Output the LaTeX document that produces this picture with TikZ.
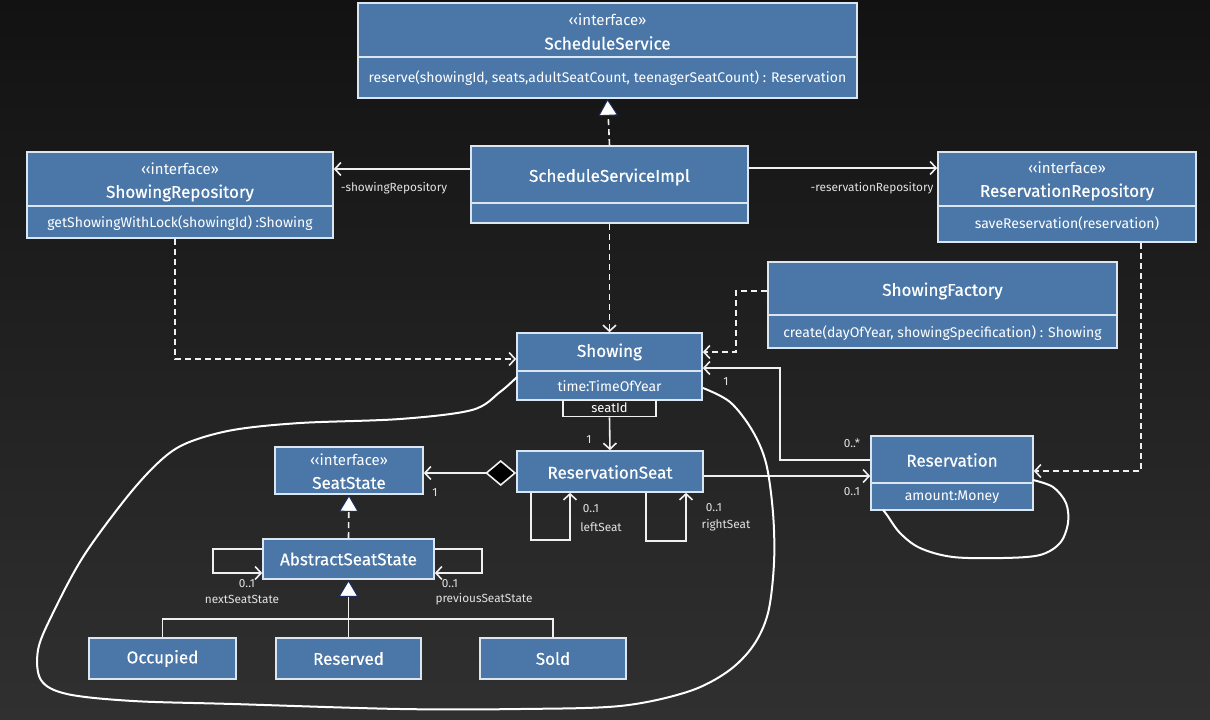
\documentclass[tikz,border=0pt]{standalone}
\usepackage{fontspec}
\setmainfont{Fira Sans}
\newfontfamily\titlefont[FakeBold=0.6]{Fira Sans}
\usetikzlibrary{arrows.meta}
\definecolor{boxfill}{HTML}{4A77A8}
\definecolor{boxline}{HTML}{DCE6F0}
\definecolor{bgtop}{HTML}{121212}
\definecolor{bgbot}{HTML}{303030}
\definecolor{linec}{HTML}{F0F0F0}
\definecolor{lblc}{HTML}{E2E2E2}
\definecolor{tipedge}{HTML}{1C2A5C}
\begin{document}
\begin{tikzpicture}[x=1pt,y=-1pt,
  cls/.style={draw=boxline,fill=boxfill,line width=1.6pt,inner sep=0pt,rectangle},
  div/.style={draw=boxline,line width=1.6pt},
  ttl/.style={text=white,font=\titlefont\fontsize{17}{19}\selectfont,inner sep=0pt},
  stereo/.style={text=white,font=\fontsize{15}{17}\selectfont,inner sep=0pt},
  member/.style={text=white,font=\fontsize{14}{16}\selectfont,inner sep=0pt},
  lbl/.style={text=lblc,font=\fontsize{11.8}{13}\selectfont,inner sep=0pt},
  conn/.style={draw=linec,line width=1.6pt},
  assoc/.style={conn,-{Straight Barb[length=6pt,width=13pt]}},
  depend/.style={conn,dash pattern=on 6pt off 4pt,-{Straight Barb[length=6pt,width=13pt]}},
  realize/.style={conn,dash pattern=on 6pt off 4pt,-{Triangle[length=17pt,width=20pt,fill=white,color=tipedge,line width=1pt]}},
  general/.style={conn,-{Triangle[length=17pt,width=20pt,fill=white,color=tipedge,line width=1pt]}},
  curve/.style={draw=white,line width=2pt},
]
\useasboundingbox (0,0) rectangle (1210,720);
\shade[top color=bgtop,bottom color=bgbot] (0,0) rectangle (1210,720);

% ScheduleService
\node[cls,minimum width=499pt,minimum height=95pt] (ss) at (607.5,50.5) {};
\draw[div] (ss.west |- 0,57) -- (ss.east |- 0,57);
\node[stereo] (ssst) at (607.5,20) {‹‹interface››};
\node[ttl] (ssn) at (607.5,43) {ScheduleService};
\node[member] (ssm) at (607.5,78) {reserve(showingId, seats,adultSeatCount, teenagerSeatCount) : Reservation};

% ShowingRepository
\node[cls,minimum width=306pt,minimum height=86pt] (srep) at (180,195) {};
\draw[div] (srep.west |- 0,206) -- (srep.east |- 0,206);
\node[stereo] (srepst) at (180,169) {‹‹interface››};
\node[ttl] (srepn) at (180,193) {ShowingRepository};
\node[member] (srepm) at (180,223) {getShowingWithLock(showingId) :Showing};

% ScheduleServiceImpl
\node[cls,minimum width=277pt,minimum height=77pt] (impl) at (609.5,184.5) {};
\draw[div] (impl.west |- 0,203) -- (impl.east |- 0,203);
\node[ttl] (impln) at (609.5,177) {ScheduleServiceImpl};

% ReservationRepository
\node[cls,minimum width=258pt,minimum height=90pt] (rrep) at (1067,197) {};
\draw[div] (rrep.west |- 0,206) -- (rrep.east |- 0,206);
\node[stereo] (rrepst) at (1067,168) {‹‹interface››};
\node[ttl] (rrepn) at (1067,192) {ReservationRepository};
\node[member] (rrepm) at (1067,224) {saveReservation(reservation)};

% ShowingFactory
\node[cls,minimum width=349pt,minimum height=86pt] (sf) at (942.5,305) {};
\draw[div] (sf.west |- 0,315) -- (sf.east |- 0,315);
\node[ttl] (sfn) at (942.5,291) {ShowingFactory};
\node[member] (sfm) at (942.5,333) {create(dayOfYear, showingSpecification) : Showing};

% Showing
\node[cls,minimum width=185pt,minimum height=67pt] (sh) at (609.5,366.5) {};
\draw[div] (sh.west |- 0,371) -- (sh.east |- 0,371);
\node[ttl] (shn) at (609.5,352) {Showing};
\node[member] (shm) at (609.5,386) {time:TimeOfYear};
\node[draw=linec,line width=1.4pt,minimum width=93pt,minimum height=16pt,inner sep=0pt,anchor=north] (qual) at (609.5,400) {};
\node[text=white,font=\fontsize{13}{15}\selectfont,inner sep=0pt] (qualt) at (609.5,408) {seatId};

% ReservationSeat
\node[cls,minimum width=186pt,minimum height=41pt] (rs) at (610,471.5) {};
\node[ttl] (rsn) at (610,472) {ReservationSeat};

% SeatState
\node[cls,minimum width=148pt,minimum height=47pt] (st) at (349,470.5) {};
\node[stereo] (stst) at (349,460) {‹‹interface››};
\node[ttl] (stn) at (349,483) {SeatState};

% AbstractSeatState
\node[cls,minimum width=171pt,minimum height=40pt] (ast) at (348.5,559) {};
\node[ttl] (astn) at (348.5,559) {AbstractSeatState};

% Reservation
\node[cls,minimum width=162pt,minimum height=74pt] (res) at (952,473) {};
\draw[div] (res.west |- 0,483) -- (res.east |- 0,483);
\node[ttl] (resn) at (952,460) {Reservation};
\node[member] (resm) at (952,497) {amount:Money};

% Subclasses
\node[cls,minimum width=147pt,minimum height=41pt] (occ) at (162.5,658.5) {};
\node[ttl] (occn) at (162.5,658.5) {Occupied};
\node[cls,minimum width=145pt,minimum height=41pt] (rsv) at (348.5,658.5) {};
\node[ttl] (rsvn) at (348.5,658.5) {Reserved};
\node[cls,minimum width=146pt,minimum height=41pt] (sold) at (553,658.5) {};
\node[ttl] (soldn) at (553,658.5) {Sold};

% ---- connectors ----
\draw[realize] (impl.north) -- (ss.south);
\draw[assoc] (impl.west |- 0,169) -- (srep.east |- 0,169);
\node[lbl] (l1) at (394,188) {-showingRepository};
\draw[assoc] (impl.east |- 0,168) -- (rrep.west |- 0,168);
\node[lbl] (l2) at (872,188) {-reservationRepository};
\draw[depend] (impl.south) -- (sh.north);
\draw[depend] (srep.south -| 175,0) |- (sh.west |- 0,359);
\draw[depend] (sf.west |- 0,291) -- (736,291) |- (sh.east |- 0,352);
\draw[depend] (rrep.south -| 1141,0) |- (res.east |- 0,471);
\draw[assoc] (res.west |- 0,460) -- (780,460) |- (sh.east |- 0,368);
\node[lbl] (l3) at (726,382) {1};
\node[lbl] (l4) at (852,443) {0..*};
\draw[assoc] (qual.south) -- (rs.north);
\node[lbl] (l5) at (589,440) {1};
\draw[assoc] (rs.east |- 0,476) -- (res.west |- 0,476);
\node[lbl] (l6) at (852,492) {0..1};
\draw[conn,{Diamond[length=31pt,width=26pt,fill=black]}-{Straight Barb[length=6pt,width=13pt]}] (rs.west |- 0,473) -- (st.east |- 0,473);
\node[lbl] (l7) at (435,493) {1};

% ReservationSeat self loops
\draw[assoc] (rs.south -| 531,0) -- (531,540) -- (570,540) -- (rs.south -| 570,0);
\node[lbl] (l8) at (591,509) {0..1};
\node[lbl] (l9) at (601,527) {leftSeat};
\draw[assoc] (rs.south -| 646,0) -- (646,541) -- (686,541) -- (rs.south -| 686,0);
\node[lbl] (l10) at (714,508) {0..1};
\node[lbl] (l11) at (726,525) {rightSeat};

% AbstractSeatState
\draw[realize] (ast.north) -- (st.south);
\draw[assoc] (ast.west |- 0,549) -- (213,549) -- (213,573) -- (ast.west |- 0,573);
\node[lbl] (l12) at (247,584) {0..1};
\node[lbl] (l13) at (242,599) {nextSeatState};
\draw[assoc] (ast.east |- 0,549) -- (482,549) -- (482,573) -- (ast.east |- 0,573);
\node[lbl] (l14) at (450,584) {0..1};
\node[lbl] (l15) at (484,599) {previousSeatState};

% generalization
\coordinate (junc) at (348.5,619);
\draw[conn] (occ.north) |- (junc);
\draw[conn] (sold.north) |- (junc);
\draw[general] (rsv.north) -- (ast.south);

% freehand curves
\draw[curve] plot[smooth,tension=0.55] coordinates {(517,377) (500,392) (472,410) (400,419) (300,423) (233,430) (187,443) (160,461) (127,497) (83,557) (52,615) (38,650) (41,680) (67,694) (133,701) (233,704) (400,709) (520,709) (620,706) (687,692) (727,672) (753,646) (768,613) (774,563) (773,513) (766,463) (752,430) (730,402) (703,388)};
\draw[curve] plot[smooth,tension=0.55] coordinates {(1033,480) (1053,487) (1066,503) (1068,523) (1060,543) (1040,555) (1003,558) (953,557) (920,548) (900,533) (887,515) (883,510)};
\end{tikzpicture}
\end{document}
